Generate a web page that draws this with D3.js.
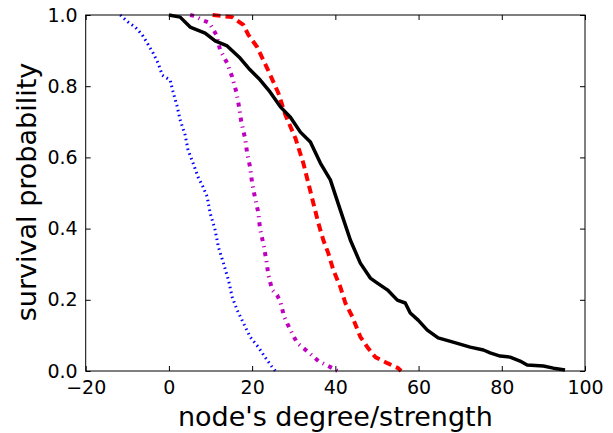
<!DOCTYPE html>
<html><head><meta charset="utf-8">
<script src="https://cdn.jsdelivr.net/npm/d3@7"></script>
<style>body{margin:0;background:#fff}svg{display:block}text{font-family:"DejaVu Sans",sans-serif;fill:#000}</style>
</head><body><svg id="c" width="613" height="433"></svg>
<script>
const xTicks = [-20, 0, 20, 40, 60, 80, 100];
const yTicks = [0.0, 0.2, 0.4, 0.6, 0.8, 1.0];
const xLabel = "node's degree/strength";
const yLabel = "survival probability";

const blackX = [0,2.7,5.1,8.7,11.1,14.0,17.1,19.5,21.9,24.3,26.8,29.2,31.6,34.0,36.4,38.8,41.2,43.6,46.0,48.4,50.1,52.5,54.9,56.8,58.0,59.9,62.1,64.7,68.3,72.4,75.6,77.2,79.6,82.0,84.4,86.1,90.0,92.4,95.2];
const blackY = [1.0,0.994,0.966,0.949,0.927,0.913,0.879,0.846,0.818,0.784,0.742,0.713,0.671,0.643,0.584,0.537,0.452,0.368,0.303,0.261,0.247,0.228,0.199,0.191,0.163,0.143,0.115,0.093,0.081,0.067,0.059,0.051,0.042,0.039,0.028,0.017,0.014,0.008,0.003];

const redX = [10.5,15.2,17.9,19.1,21.2,23.6,25.1,26.3,28.0,30.4,32.3,33.5,34.7,35.9,37.1,38.3,39.5,41.2,42.4,44.1,46.0,47.7,49.6,52.5,55.1,55.8];
const redY = [1.0,0.994,0.972,0.944,0.910,0.851,0.812,0.781,0.719,0.654,0.584,0.528,0.472,0.416,0.368,0.331,0.284,0.236,0.191,0.152,0.096,0.067,0.039,0.022,0.008,0.0];

const magX = [5.1,6.3,8.0,9.7,11.4,12.3,14.0,15.2,16.2,16.9,17.4,18.3,18.8,19.5,20.0,20.7,21.5,21.9,22.7,23.4,23.9,24.8,26.0,26.8,27.7,29.2,30.8,33.5,35.9,39.3,40.5];
const magY = [1.0,0.997,0.986,0.978,0.944,0.902,0.865,0.826,0.784,0.739,0.699,0.654,0.612,0.573,0.528,0.486,0.444,0.399,0.357,0.312,0.270,0.228,0.213,0.194,0.152,0.115,0.079,0.053,0.028,0.008,0.0];

const blueX = [-11.7,-9.8,-8.1,-6.4,-5.2,-3.8,-2.6,-1.6,0.3,1.0,2.0,2.7,3.9,4.6,5.8,7.0,8.2,9.2,9.9,11.1,11.9,13.1,14.3,15.2,16.4,17.9,19.5,21.5,23.1,24.8,25.6];
const blueY = [1.0,0.980,0.966,0.944,0.921,0.893,0.865,0.831,0.817,0.784,0.742,0.705,0.663,0.621,0.584,0.545,0.517,0.489,0.444,0.396,0.348,0.303,0.256,0.208,0.171,0.135,0.096,0.067,0.039,0.011,0.0];

const L = 85.7, R = 585, T = 15, B = 371;
const svg = d3.select("#c");
const x = d3.scaleLinear().domain([-20, 100]).range([L, R]);
const y = d3.scaleLinear().domain([0, 1]).range([B, T]);

const series = [
  {xs: blueX, ys: blueY, color: "#0000ff", w: 3, dash: "1.5,3.5"},
  {xs: magX, ys: magY, color: "#bf00bf", w: 4, dash: "4,5,1.2,5"},
  {xs: redX, ys: redY, color: "#ff0000", w: 4, dash: "8,5"},
  {xs: blackX, ys: blackY, color: "#000000", w: 3.5, dash: null}
];
const line = d3.line().x(d => x(d[0])).y(d => y(d[1]));
series.forEach(s => {
  const pts = s.xs.map((v, i) => [v, s.ys[i]]);
  const p = svg.append("path").attr("d", line(pts)).attr("fill", "none")
    .attr("stroke", s.color).attr("stroke-width", s.w).attr("stroke-linejoin", "round");
  if (s.dash) p.attr("stroke-dasharray", s.dash);
});

const fmtX = d => d < 0 ? "\u2212" + Math.abs(d) : String(d);
const tl = 5;
const bx = svg.append("g").attr("transform", `translate(0,${B})`)
  .call(d3.axisBottom(x).tickValues(xTicks).tickFormat(fmtX).tickSizeInner(-tl).tickSizeOuter(0).tickPadding(10));
const tx = svg.append("g").attr("transform", `translate(0,${T})`)
  .call(d3.axisTop(x).tickValues(xTicks).tickFormat("").tickSizeInner(-tl).tickSizeOuter(0));
const ly = svg.append("g").attr("transform", `translate(${L},0)`)
  .call(d3.axisLeft(y).tickValues(yTicks).tickFormat(d3.format(".1f")).tickSizeInner(-tl).tickSizeOuter(0).tickPadding(8));
const ry = svg.append("g").attr("transform", `translate(${R},0)`)
  .call(d3.axisRight(y).tickValues(yTicks).tickFormat("").tickSizeInner(-tl).tickSizeOuter(0));
[bx, tx, ly, ry].forEach(g => {
  g.select(".domain").remove();
  g.selectAll("line").attr("stroke", "#000").attr("stroke-width", 1);
  g.selectAll("text").attr("font-size", 19).attr("font-family", "DejaVu Sans").attr("fill", "#000");
});
svg.append("rect").attr("x", L).attr("y", T).attr("width", R - L).attr("height", B - T)
  .attr("fill", "none").attr("stroke", "#000").attr("stroke-width", 1);

svg.append("text").attr("x", (L + R) / 2).attr("y", 426).attr("text-anchor", "middle")
  .attr("font-size", 27).text(xLabel);
svg.append("text").attr("transform", `translate(36,${(T + B) / 2 - 1}) rotate(-90)`)
  .attr("text-anchor", "middle").attr("font-size", 27).text(yLabel);
</script></body></html>
